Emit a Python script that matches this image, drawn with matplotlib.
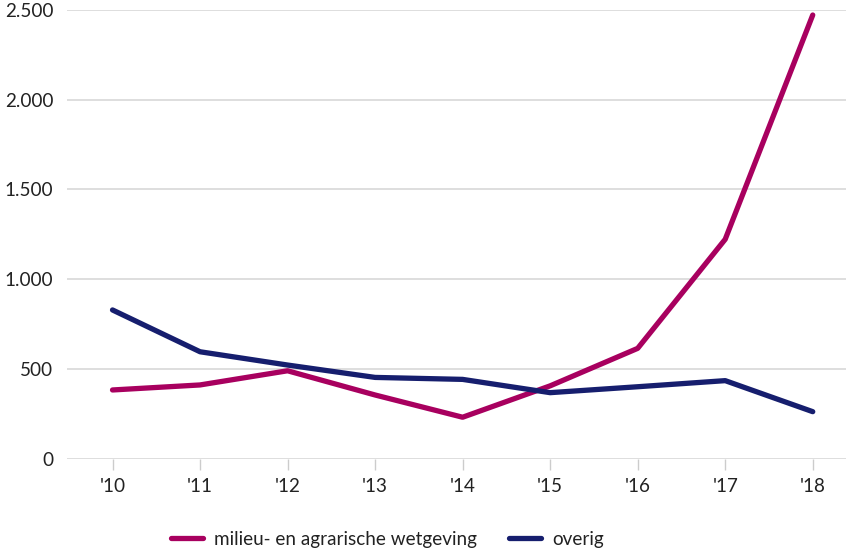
import matplotlib
matplotlib.use("Agg")
import matplotlib.pyplot as plt
from matplotlib.ticker import FuncFormatter

years = [2010, 2011, 2012, 2013, 2014, 2015, 2016, 2017, 2018]
year_labels = ["'10", "'11", "'12", "'13", "'14", "'15", "'16", "'17", "'18"]
milieu = [382, 410, 489, 354, 230, 405, 614, 1222, 2472]
overig = [828, 595, 521, 452, 441, 367, 400, 434, 261]
series_names = ["milieu- en agrarische wetgeving", "overig"]
colors = ["#A8005F", "#161E6E"]

plt.rcParams['font.family'] = ['Lato', 'DejaVu Sans']
fs = 13.6

fig = plt.figure(figsize=(8.46, 5.49), dpi=100)
ax = fig.add_axes([67/846, 1 - 458.5/549, (846 - 67)/846, (458.5 - 10)/549])

for vals, name, c in zip([milieu, overig], series_names, colors):
    ax.plot(years, vals, color=c, lw=3.8, label=name, solid_capstyle='round',
            solid_joinstyle='round', clip_on=False, zorder=3)

ax.set_ylim(0, 2500)
ax.set_xlim(2009.48, 2018.38)
ax.set_yticks([0, 500, 1000, 1500, 2000, 2500])
ax.yaxis.set_major_formatter(FuncFormatter(lambda v, p: f"{int(v):,}".replace(",", ".")))
ax.set_xticks(years)
ax.set_xticklabels(year_labels)

ax.grid(axis='y', color='#d4d4d4', lw=1.1, zorder=0)
for s in ax.spines.values():
    s.set_visible(False)
ax.tick_params(axis='y', length=0, pad=10, labelsize=fs, labelcolor='#222222')
ax.tick_params(axis='x', length=8, width=1, color='#cccccc', pad=6, labelsize=fs, labelcolor='#222222')

leg = fig.legend(loc='center', bbox_to_anchor=(0.458, 1 - 539/549), ncol=2, frameon=False,
                 fontsize=fs, handlelength=1.7, handletextpad=0.6, columnspacing=1.7)
for t in leg.get_texts():
    t.set_color('#222222')

fig.savefig("out.png", dpi=100)
